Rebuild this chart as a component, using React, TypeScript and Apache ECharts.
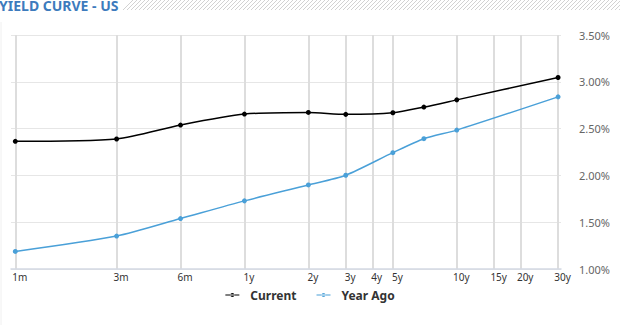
import React, { useEffect, useRef } from "react";
import * as echarts from "echarts";

const tickMonths = [1, 3, 6, 12, 24, 36, 48, 60, 120, 180, 240, 360];
const tickLabels = ["1m", "3m", "6m", "1y", "2y", "3y", "4y", "5y", "10y", "15y", "20y", "30y"];
const pointMonths = [1, 3, 6, 12, 24, 36, 60, 84, 120, 360];
const currentYields = [2.364, 2.389, 2.538, 2.655, 2.673, 2.652, 2.669, 2.73, 2.807, 3.046];
const yearAgoYields = [1.188, 1.352, 1.539, 1.728, 1.898, 2.002, 2.243, 2.392, 2.484, 2.839];
const yTicks = { min: 1, max: 3.5, interval: 0.5 };

const legendIcon = "path://M0,2h14v1.2h-14z M5,2.6a2,2 0 1,0 4,0a2,2 0 1,0 -4,0z";

function labelFor(v: number): string {
  for (let i = 0; i < tickMonths.length; i++) {
    if (Math.abs(tickMonths[i] - v) < tickMonths[i] * 1e-3) return tickLabels[i];
  }
  return "";
}

function hatch() {
  const els: any[] = [];
  const x0 = 123, x1 = 620, h = 10;
  for (let x = x0; x < x1; x += 4) {
    const xe = Math.min(x + h, x1);
    els.push({
      type: "line",
      shape: { x1: x, y1: h, x2: xe, y2: h - (xe - x) },
      style: { stroke: "#d2d2d2", lineWidth: 1 },
      silent: true,
    });
  }
  return els;
}

export default function App() {
  const ref = useRef<HTMLDivElement>(null);
  useEffect(() => {
    if (!ref.current) return;
    const chart = echarts.init(ref.current, null, { renderer: "svg" });
    const cur = pointMonths.map((m, i) => [m, currentYields[i]]);
    const ago = pointMonths.map((m, i) => [m, yearAgoYields[i]]);
    chart.setOption({
      animation: false,
      backgroundColor: "#ffffff",
      grid: { left: 11, right: 59, top: 35, bottom: 56, outerBoundsMode: "none" },
      graphic: [
        {
          type: "text",
          left: -1,
          top: -2,
          style: {
            text: "YIELD CURVE - US",
            fill: "#3d7bbd",
            font: "bold 14px 'Noto Sans'",
          },
        },
        ...hatch(),
        {
          type: "line",
          shape: { x1: 1, y1: 22, x2: 1, y2: 325 },
          style: { stroke: "#f0f0f0", lineWidth: 1 },
        },
      ],
      legend: {
        left: "center",
        top: 284,
        itemWidth: 14,
        itemHeight: 5,
        itemGap: 20,
        textStyle: {
          fontFamily: "Noto Sans",
          fontWeight: "bold",
          fontSize: 12,
          color: "#333333",
          padding: [0, 0, 0, 6],
        },
        data: [
          { name: "Current", icon: legendIcon },
          { name: "Year Ago", icon: legendIcon },
        ],
      },
      xAxis: {
        type: "log",
        logBase: 10,
        min: 0.9545,
        max: 371.6,
        axisLine: { show: true, lineStyle: { color: "#d3d9e3", width: 1.5 } },
        axisTick: { show: false, customValues: tickMonths },
        splitLine: { show: true, lineStyle: { color: "#dddddd", width: 2 } },
        minorSplitLine: { show: false },
        axisLabel: {
          customValues: tickMonths,
          formatter: (v: number) => labelFor(v),
          color: "#333333",
          fontFamily: "Noto Sans",
          fontSize: 10,
          margin: 3,
          padding: [0, 0, 0, 9],
          showMinLabel: true,
          showMaxLabel: true,
        },
      },
      yAxis: {
        type: "value",
        position: "right",
        min: yTicks.min,
        max: yTicks.max,
        interval: yTicks.interval,
        axisLine: { show: false },
        axisTick: { show: false },
        splitLine: { lineStyle: { color: "#e6e6e6", width: 1 } },
        axisLabel: {
          formatter: (v: number) => v.toFixed(2) + "%",
          color: "#666666",
          fontFamily: "Noto Sans",
          fontSize: 11,
          margin: 18,
        },
      },
      series: [
        {
          name: "Current",
          type: "line",
          data: cur,
          smooth: 0.25,
          symbol: "circle",
          symbolSize: 5,
          color: "#000000",
          lineStyle: { width: 1.5, color: "#000000" },
          itemStyle: { color: "#000000" },
        },
        {
          name: "Year Ago",
          type: "line",
          data: ago,
          smooth: 0.25,
          symbol: "circle",
          symbolSize: 5,
          color: "#4aa0d8",
          lineStyle: { width: 1.5, color: "#4aa0d8" },
          itemStyle: { color: "#4aa0d8" },
        },
      ],
    });
    return () => chart.dispose();
  }, []);
  return <div ref={ref} style={{ width: 620, height: 325, position: "absolute", left: 0, top: 0 }} />;
}
